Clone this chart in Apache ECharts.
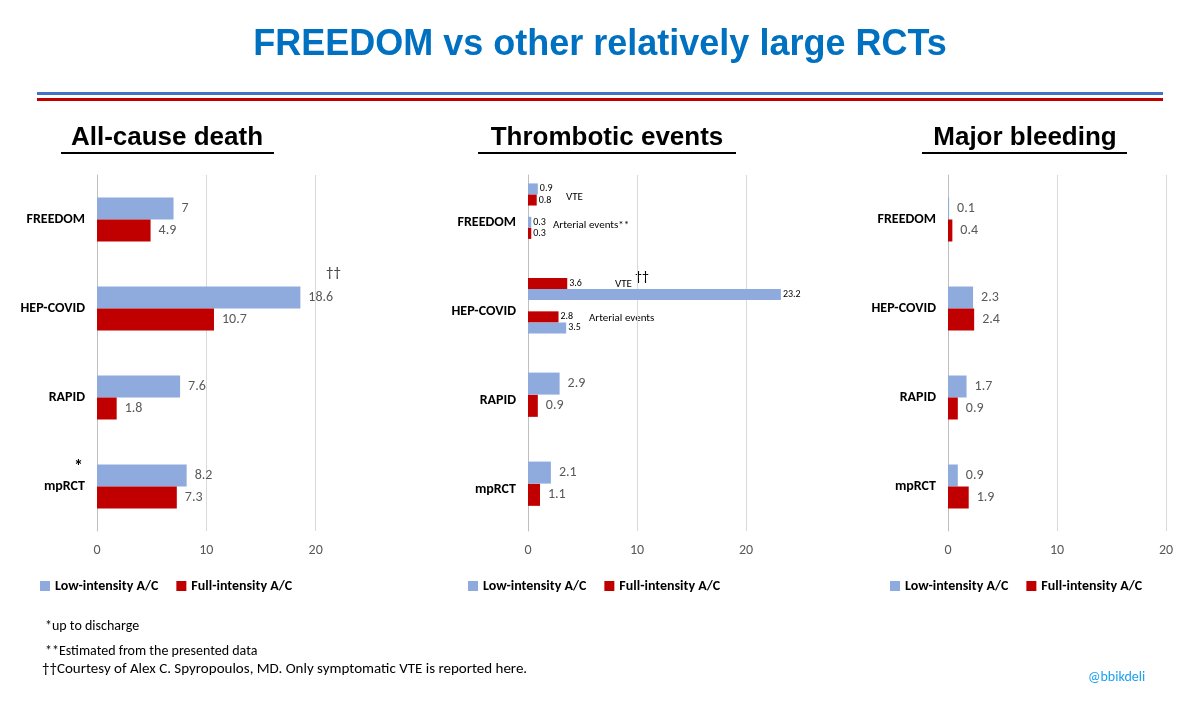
<!DOCTYPE html>
<html><head><meta charset="utf-8">
<script src="https://cdn.jsdelivr.net/npm/echarts@6/dist/echarts.min.js"></script>
<style>html,body{margin:0;padding:0;background:#fff}#c{width:1200px;height:706px}</style>
</head><body><div id="c"></div>
<script>
const trials = ['FREEDOM','HEP-COVID','RAPID','mpRCT'];
const deathLow = [7, 18.6, 7.6, 8.2];
const deathFull = [4.9, 10.7, 1.8, 7.3];
const bleedLow = [0.1, 2.3, 1.7, 0.9];
const bleedFull = [0.4, 2.4, 0.9, 1.9];
// thrombotic: FREEDOM VTE, FREEDOM arterial, HEP-COVID VTE, HEP-COVID arterial
const thrLowSub = [0.9, 0.3, 23.2, 3.5];
const thrFullSub = [0.8, 0.3, 3.6, 2.8];
// thrombotic: RAPID, mpRCT
const thrLowMain = [2.9, 2.1];
const thrFullMain = [0.9, 1.1];
const xTicks = [0, 10, 20];

const BLUE = '#8FAADC', RED = '#C00000';
const LOW = 'Low-intensity A/C', FULL = 'Full-intensity A/C';
const NS = 64;
const slots = Array.from({length: NS}, (_, i) => 's' + i);
function place(vals, pos) { const a = new Array(NS).fill(null); vals.forEach((v, i) => a[pos[i]] = v); return a; }
const lowSubPos = [2, 8, 21, 27], fullSubPos = [4, 10, 19, 25];
const lowMainPos = [37, 53], fullMainPos = [41, 57];

const chart = echarts.init(document.getElementById('c'));
const F = 'Calibri, Carlito, "Open Sans", "Noto Sans", sans-serif';
const lblBig = {show: true, position: 'right', fontSize: 14, color: '#595959', fontFamily: F, distance: 8};
const lblSmall = {show: true, position: 'right', fontSize: 10, color: '#000', fontFamily: F, distance: 2};
function xAx(gi, max, showMax) {
  return {type: 'value', gridIndex: gi, min: 0, max: max, interval: 10,
    axisLabel: {color: '#595959', fontSize: 14, fontFamily: F, margin: 12, formatter: v => xTicks.includes(v) ? String(v) : ''},
    axisLine: {show: false}, axisTick: {show: false}, splitLine: {showMaxLine: showMax, lineStyle: {color: '#d9d9d9'}}};
}
const yLbl = {color: '#000', fontWeight: 'bold', fontSize: 14, fontFamily: F, margin: 12};
const yLine = {show: true, lineStyle: {color: '#bfbfbf'}};
const legendBase = {icon: 'rect', itemWidth: 10, itemHeight: 10, itemGap: 18, textStyle: {fontWeight: 'bold', fontSize: 14, color: '#000', fontFamily: F}, data: [LOW, FULL], selectedMode: false};
function txt(x, y, t, size, extra) { return Object.assign({type: 'text', x: x, y: y, style: Object.assign({text: t, fontSize: size, fill: '#000', fontFamily: F}, extra || {})}); }
const H = 'Arial, "Liberation Sans", sans-serif';

chart.setOption({
  animation: false,
  grid: [
    {left: 97, width: 328, top: 175, height: 356},
    {left: 528, width: 327, top: 175, height: 356},
    {left: 948, width: 218, top: 175, height: 356}
  ],
  xAxis: [xAx(0, 30, false), xAx(1, 30, false), xAx(2, 20, true)],
  yAxis: [
    {type: 'category', gridIndex: 0, data: trials, inverse: true, axisLabel: yLbl, axisLine: yLine, axisTick: {show: false}},
    {type: 'category', gridIndex: 1, data: slots, inverse: true, axisLine: yLine, axisTick: {show: false},
      axisLabel: Object.assign({}, yLbl, {interval: i => i % 16 === 8, formatter: (v, i) => trials[Math.floor(i / 16)]})},
    {type: 'category', gridIndex: 1, data: slots, inverse: true, show: false},
    {type: 'category', gridIndex: 2, data: trials, inverse: true, axisLabel: yLbl, axisLine: yLine, axisTick: {show: false}}
  ],
  legend: [
    Object.assign({left: 35, top: 574}, legendBase),
    Object.assign({left: 463, top: 574}, legendBase),
    Object.assign({left: 885, top: 574}, legendBase)
  ],
  series: [
    {name: LOW, type: 'bar', xAxisIndex: 0, yAxisIndex: 0, data: deathLow, barWidth: 22, barGap: '0%', itemStyle: {color: BLUE}, label: lblBig},
    {name: FULL, type: 'bar', xAxisIndex: 0, yAxisIndex: 0, data: deathFull, barWidth: 22, barGap: '0%', itemStyle: {color: RED}, label: lblBig},
    {name: LOW, type: 'bar', xAxisIndex: 1, yAxisIndex: 1, data: place(thrLowSub, lowSubPos), barWidth: 11, barGap: '-100%', itemStyle: {color: BLUE}, label: lblSmall},
    {name: FULL, type: 'bar', xAxisIndex: 1, yAxisIndex: 1, data: place(thrFullSub, fullSubPos), barWidth: 11, barGap: '-100%', itemStyle: {color: RED}, label: lblSmall},
    {name: LOW, type: 'bar', xAxisIndex: 1, yAxisIndex: 2, data: place(thrLowMain, lowMainPos), barWidth: 22, barGap: '-100%', itemStyle: {color: BLUE}, label: lblBig},
    {name: FULL, type: 'bar', xAxisIndex: 1, yAxisIndex: 2, data: place(thrFullMain, fullMainPos), barWidth: 22, barGap: '-100%', itemStyle: {color: RED}, label: lblBig},
    {name: LOW, type: 'bar', xAxisIndex: 2, yAxisIndex: 3, data: bleedLow, barWidth: 22, barGap: '0%', itemStyle: {color: BLUE}, label: lblBig},
    {name: FULL, type: 'bar', xAxisIndex: 2, yAxisIndex: 3, data: bleedFull, barWidth: 22, barGap: '0%', itemStyle: {color: RED}, label: lblBig}
  ],
  graphic: [
    {type: 'text', left: 'center', top: 27, style: {text: 'FREEDOM vs other relatively large RCTs', fontSize: 36, fontWeight: 'bold', fill: '#0070C0', fontFamily: H}},
    {type: 'rect', shape: {x: 37, y: 92, width: 1126, height: 3}, style: {fill: '#4472C4'}},
    {type: 'rect', shape: {x: 37, y: 98, width: 1126, height: 3}, style: {fill: '#C00000'}},
    {type: 'text', x: 167, y: 138, style: {text: 'All-cause death', fontSize: 26, fontWeight: 'bold', fill: '#000', align: 'center', verticalAlign: 'middle', fontFamily: H}},
    {type: 'rect', shape: {x: 61, y: 152, width: 213, height: 2}, style: {fill: '#000'}},
    {type: 'text', x: 607, y: 138, style: {text: 'Thrombotic events', fontSize: 26, fontWeight: 'bold', fill: '#000', align: 'center', verticalAlign: 'middle', fontFamily: H}},
    {type: 'rect', shape: {x: 478, y: 152, width: 258, height: 2}, style: {fill: '#000'}},
    {type: 'text', x: 1025, y: 138, style: {text: 'Major bleeding', fontSize: 26, fontWeight: 'bold', fill: '#000', align: 'center', verticalAlign: 'middle', fontFamily: H}},
    {type: 'rect', shape: {x: 922, y: 152, width: 205, height: 2}, style: {fill: '#000'}},
    txt(326, 266, '††', 15, {fill: '#404040'}),
    txt(74, 458, '*', 18, {fontWeight: 'bold'}),
    txt(566, 192, 'VTE', 11),
    txt(553, 220, 'Arterial events**', 11),
    txt(615, 279, 'VTE', 11),
    txt(635, 270, '††', 14),
    txt(589, 313, 'Arterial events', 11),
    txt(45, 619, '*up to discharge', 14),
    txt(45, 644, '**Estimated from the presented data', 14),
    txt(42, 662, '††Courtesy of Alex C. Spyropoulos, MD. Only symptomatic VTE is reported here.', 15),
    txt(1088, 670, '@bbikdeli', 14, {fill: '#1DA1F2'})
  ]
});
</script></body></html>
